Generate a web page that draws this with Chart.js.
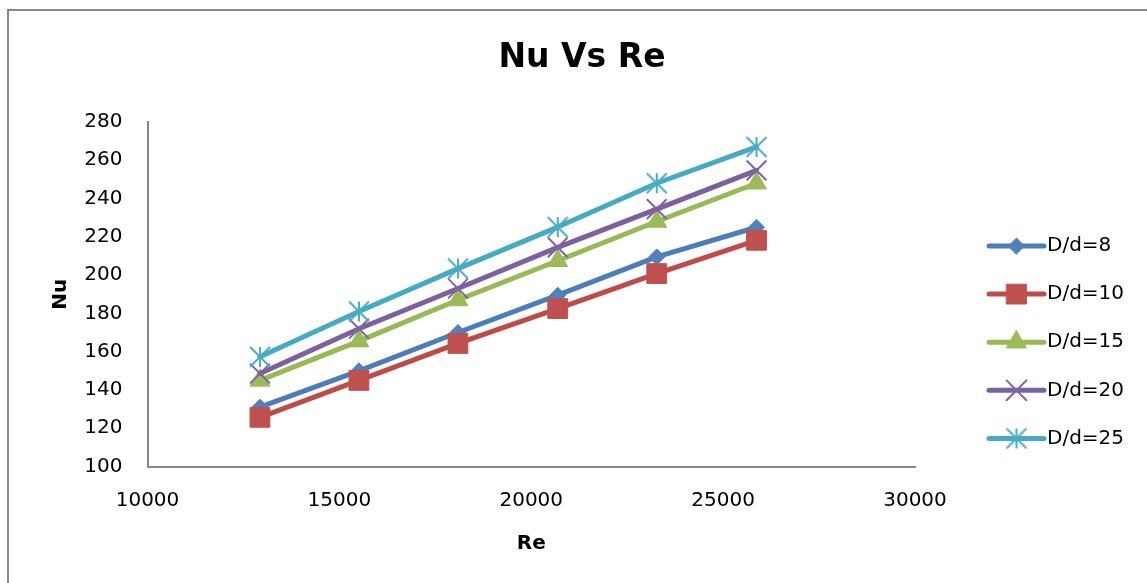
<!DOCTYPE html>
<html>
<head>
<meta charset="utf-8">
<title>Nu Vs Re</title>
<script src="https://cdn.jsdelivr.net/npm/chart.js@4/dist/chart.umd.min.js"></script>
<style>
  html, body { margin: 0; padding: 0; background: #fff; overflow: hidden; }
  #wrap { position: absolute; left: 0; top: 0; width: 1147px; height: 583px; }
</style>
</head>
<body>
<div id="wrap"><canvas id="chart" width="1147" height="583"></canvas></div>
<script>
// Reynolds numbers of the test runs (shared by all diameter ratios)
const reynolds = [12930, 15510, 18090, 20690, 23270, 25870];

// Nusselt numbers for each diameter ratio D/d
const nuD8  = [131.0, 150.0, 170.0, 189.5, 209.5, 225.0];
const nuD10 = [125.7, 145.0, 164.3, 182.5, 200.8, 218.2];
const nuD15 = [145.0, 165.5, 187.0, 207.5, 228.0, 248.0];
const nuD20 = [148.6, 172.0, 193.0, 214.5, 234.5, 254.7];
const nuD25 = [157.3, 181.0, 203.4, 225.1, 248.0, 267.0];

const seriesLabels = ['D/d=8', 'D/d=10', 'D/d=15', 'D/d=20', 'D/d=25'];
const seriesValues = [nuD8, nuD10, nuD15, nuD20, nuD25];

// Axis ranges and tick spacing
const xRange = [10000, 30000], xStep = 5000;
const yRange = [100, 280], yStep = 20;

const FONT = "'DejaVu Sans', sans-serif";

// Asterisk marker (X with a vertical bar)
function asteriskMarker(color, s, w) {
  const c = document.createElement('canvas');
  const n = 2 * s + 4;
  c.width = n; c.height = n;
  const g = c.getContext('2d');
  const m = n / 2;
  g.strokeStyle = color; g.lineWidth = w; g.lineCap = 'butt';
  g.beginPath();
  g.moveTo(m - s, m - s); g.lineTo(m + s, m + s);
  g.moveTo(m - s, m + s); g.lineTo(m + s, m - s);
  g.moveTo(m, m - s);     g.lineTo(m, m + s);
  g.stroke();
  return c;
}

const looks = [
  { line: '#4A7EBB', fill: '#4F81BD', style: 'rectRot',  radius: 8,    bw: 1 },
  { line: '#BE4B48', fill: '#C0504D', style: 'rect',     radius: 14,   bw: 1 },
  { line: '#98B954', fill: '#9BBB59', style: 'triangle', radius: 11.5, bw: 1 },
  { line: '#7D60A0', fill: '#8064A2', style: 'crossRot', radius: 14,   bw: 2 },
  { line: '#46AAC5', fill: '#4BACC6', style: asteriskMarker('#4BACC6', 10, 2), radius: 10, bw: 2 }
];

const datasets = seriesLabels.map((label, i) => ({
  label,
  data: reynolds.map((re, k) => ({ x: re, y: seriesValues[i][k] })),
  showLine: true,
  tension: 0,
  borderColor: looks[i].line,
  borderWidth: 5,
  borderJoinStyle: 'round',
  borderCapStyle: 'round',
  pointStyle: looks[i].style,
  pointRadius: looks[i].radius,
  pointHoverRadius: looks[i].radius,
  pointBackgroundColor: looks[i].fill,
  pointBorderColor: looks[i].fill,
  pointBorderWidth: looks[i].bw,
  order: seriesLabels.length - 1 - i
}));

// Outer frame of the chart: only the top and left edges fall inside the canvas
const outerFrame = {
  id: 'outerFrame',
  beforeDraw(chart) {
    const { ctx } = chart;
    ctx.save();
    ctx.strokeStyle = '#878787';
    ctx.lineWidth = 2;
    ctx.beginPath();
    ctx.moveTo(8, chart.height);
    ctx.lineTo(8, 10);
    ctx.lineTo(chart.width, 10);
    ctx.stroke();
    ctx.restore();
  }
};

// Legend on the right: line sample with marker, then the label
const sideLegend = {
  id: 'sideLegend',
  afterDraw(chart) {
    const { ctx, chartArea } = chart;
    const x0 = chartArea.right + 74, x1 = chartArea.right + 129;
    const textX = chartArea.right + 132;
    chart.data.datasets.forEach((ds, i) => {
      const y = 246 + i * 48.1;
      ctx.save();
      ctx.strokeStyle = ds.borderColor;
      ctx.lineWidth = ds.borderWidth;
      ctx.lineCap = 'round';
      ctx.beginPath(); ctx.moveTo(x0, y); ctx.lineTo(x1, y); ctx.stroke();
      ctx.fillStyle = ds.pointBackgroundColor;
      ctx.strokeStyle = ds.pointBorderColor;
      ctx.lineWidth = ds.pointBorderWidth;
      Chart.helpers.drawPoint(ctx, {
        pointStyle: ds.pointStyle, radius: ds.pointRadius,
        rotation: 0, borderWidth: ds.pointBorderWidth
      }, (x0 + x1) / 2, y);
      ctx.fillStyle = '#000';
      ctx.font = '20px ' + FONT;
      ctx.textAlign = 'left';
      ctx.textBaseline = 'middle';
      ctx.fillText(ds.label, textX, y);
      ctx.restore();
    });
  }
};

new Chart(document.getElementById('chart'), {
  type: 'scatter',
  data: { datasets },
  plugins: [outerFrame, sideLegend],
  options: {
    responsive: false,
    animation: false,
    layout: { padding: { left: 17, right: 0, top: 0, bottom: 0 } },
    plugins: {
      legend: { display: false },
      tooltip: { enabled: false },
      title: {
        display: true,
        text: 'Nu Vs Re',
        color: '#000',
        font: { family: FONT, size: 33, weight: 'bold' },
        padding: { top: 39, bottom: 43.4 }
      }
    },
    scales: {
      x: {
        type: 'linear',
        min: xRange[0], max: xRange[1],
        ticks: {
          stepSize: xStep,
          color: '#000',
          font: { family: FONT, size: 20 },
          padding: 22,
          maxRotation: 0,
          callback: v => String(v)
        },
        grid: { display: false, drawTicks: false },
        border: { display: true, color: '#878787', width: 2 },
        title: {
          display: true, text: 'Re', color: '#000',
          font: { family: FONT, size: 20, weight: 'bold' },
          padding: { top: 0, bottom: 27 }
        },
        afterFit(scale) { scale.height = 116.5; }
      },
      y: {
        type: 'linear',
        min: yRange[0], max: yRange[1],
        ticks: {
          stepSize: yStep,
          color: '#000',
          font: { family: FONT, size: 20 },
          padding: 25
        },
        grid: { display: false, drawTicks: false },
        border: { display: true, color: '#878787', width: 2 },
        title: {
          display: true, text: 'Nu', color: '#000',
          font: { family: FONT, size: 20, weight: 'bold' },
          padding: { top: 32, bottom: 0 }
        },
        afterFit(scale) { scale.width = 130.5; }
      },
      legendSpace: {
        type: 'linear',
        position: 'right',
        display: true,
        ticks: { display: false },
        grid: { display: false, drawTicks: false },
        border: { display: false },
        afterFit(scale) { scale.width = 232; }
      }
    }
  }
});
</script>
</body>
</html>
